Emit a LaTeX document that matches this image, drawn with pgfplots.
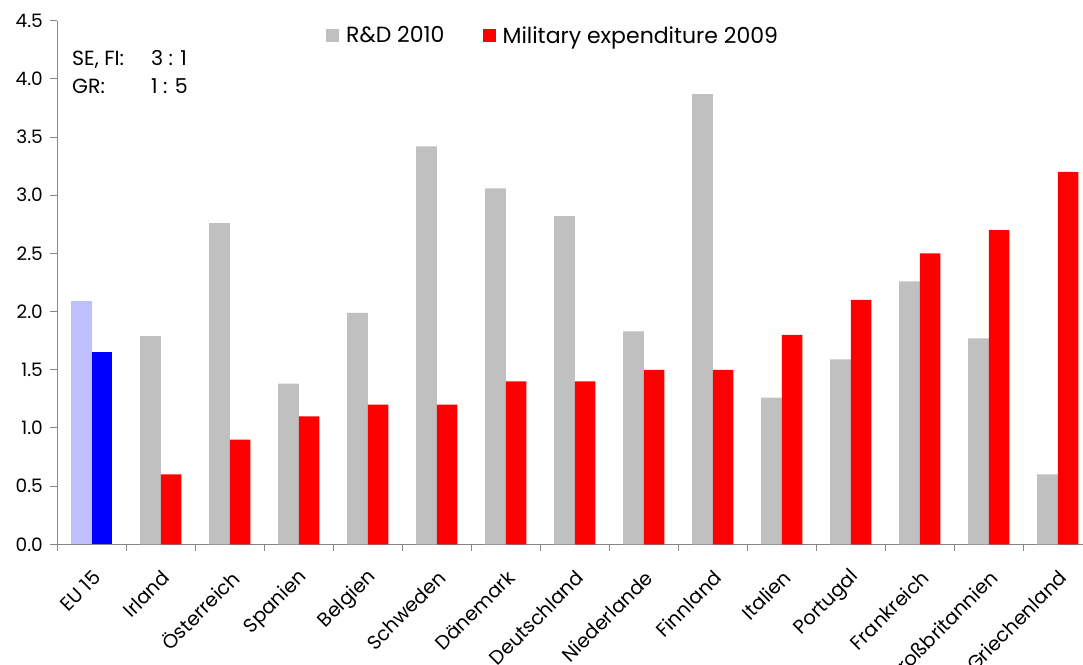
\documentclass[border=0pt]{standalone}
\usepackage{fontspec}
\setmainfont{Poppins}
\usepackage{pgfplots}
\usepackage{pgfplotstable}
\pgfplotsset{compat=1.18}
\definecolor{rdgrey}{RGB}{192,192,192}
\definecolor{milred}{RGB}{255,0,0}
\definecolor{eulight}{RGB}{191,191,255}
\definecolor{eublue}{RGB}{0,0,255}
\definecolor{axisgrey}{RGB}{134,134,134}

% R&D 2010 and military expenditure 2009, % of GDP
\pgfplotstableread{
x  rd    mil
1  1.79  0.60
2  2.76  0.90
3  1.38  1.10
4  1.99  1.20
5  3.42  1.20
6  3.06  1.40
7  2.82  1.40
8  1.83  1.50
9  3.87  1.50
10 1.26  1.80
11 1.59  2.10
12 2.26  2.50
13 1.77  2.70
14 0.60  3.20
}\countries

\newcommand{\tickfont}{\fontsize{18.5}{22}\selectfont}
\newcommand{\labelfont}{\fontsize{19.5}{23}\selectfont}
\newcommand{\legendfont}{\fontsize{22}{26}\selectfont}

\begin{document}
\begin{tikzpicture}
\path[use as bounding box] (-57.3pt,-119.7pt) rectangle (1025.7pt,544.3pt);
\begin{axis}[
    scale only axis,
    width=1035pt, height=523.6pt,
    xmin=-0.5, xmax=14.5,
    ymin=0, ymax=4.5,
    axis lines=left,
    axis line style={-, draw=axisgrey, line width=1pt},
    tick style={draw=axisgrey, line width=1pt},
    tick align=outside,
    major tick length=7pt,
    xtick={-0.5,0.5,...,14.5},
    x tick label as interval,
    xticklabels={EU 15, Irland, Österreich, Spanien, Belgien, Schweden, Dänemark,
        Deutschland, Niederlande, Finnland, Italien, Portugal, Frankreich,
        Großbritannien, Griechenland},
    xticklabel style={font=\labelfont, rotate=45, anchor=east, yshift=-20pt, xshift=-9pt},
    ytick={0,0.5,1,1.5,2,2.5,3,3.5,4,4.5},
    yticklabel style={font=\tickfont, xshift=-4pt,
        /pgf/number format/.cd, fixed, fixed zerofill, precision=1,
        assume math mode=true},
    legend style={at={(axis description cs:0.2596,0.9717)}, anchor=west,
        draw=none, fill=none, inner sep=0pt, font=\legendfont,
        nodes={inner sep=0pt},
        /tikz/every odd column/.append style={column sep=7pt},
        /tikz/every even column/.append style={column sep=38pt}},
    legend columns=2,
    legend image code/.code={\path[#1, draw=none] (0pt,-6.5pt) rectangle (13pt,6.5pt);},
]
\addplot[ybar, bar width=0.298, bar shift=-0.149, fill=rdgrey, draw=none]
    table[x=x, y=rd] {\countries};
\addplot[ybar, bar width=0.298, bar shift=0.149, fill=milred, draw=none]
    table[x=x, y=mil] {\countries};
\addplot[ybar, bar width=0.298, bar shift=-0.149, fill=eulight, draw=none, forget plot]
    coordinates {(0,2.09)};
\addplot[ybar, bar width=0.298, bar shift=0.149, fill=eublue, draw=none, forget plot]
    coordinates {(0,1.65)};
\legend{R\&D 2010, Military expenditure 2009}
\end{axis}
\begin{scope}[every node/.style={anchor=base west, inner sep=0pt,
        font=\fontsize{20.5}{24}\selectfont}]
\node at (14.7pt,478.3pt) {SE, FI:};
\node at (93.7pt,478.3pt) {3 : 1};
\node at (14.7pt,450.3pt) {GR:};
\node at (93.7pt,450.3pt) {1 : 5};
\end{scope}
\end{tikzpicture}
\end{document}
